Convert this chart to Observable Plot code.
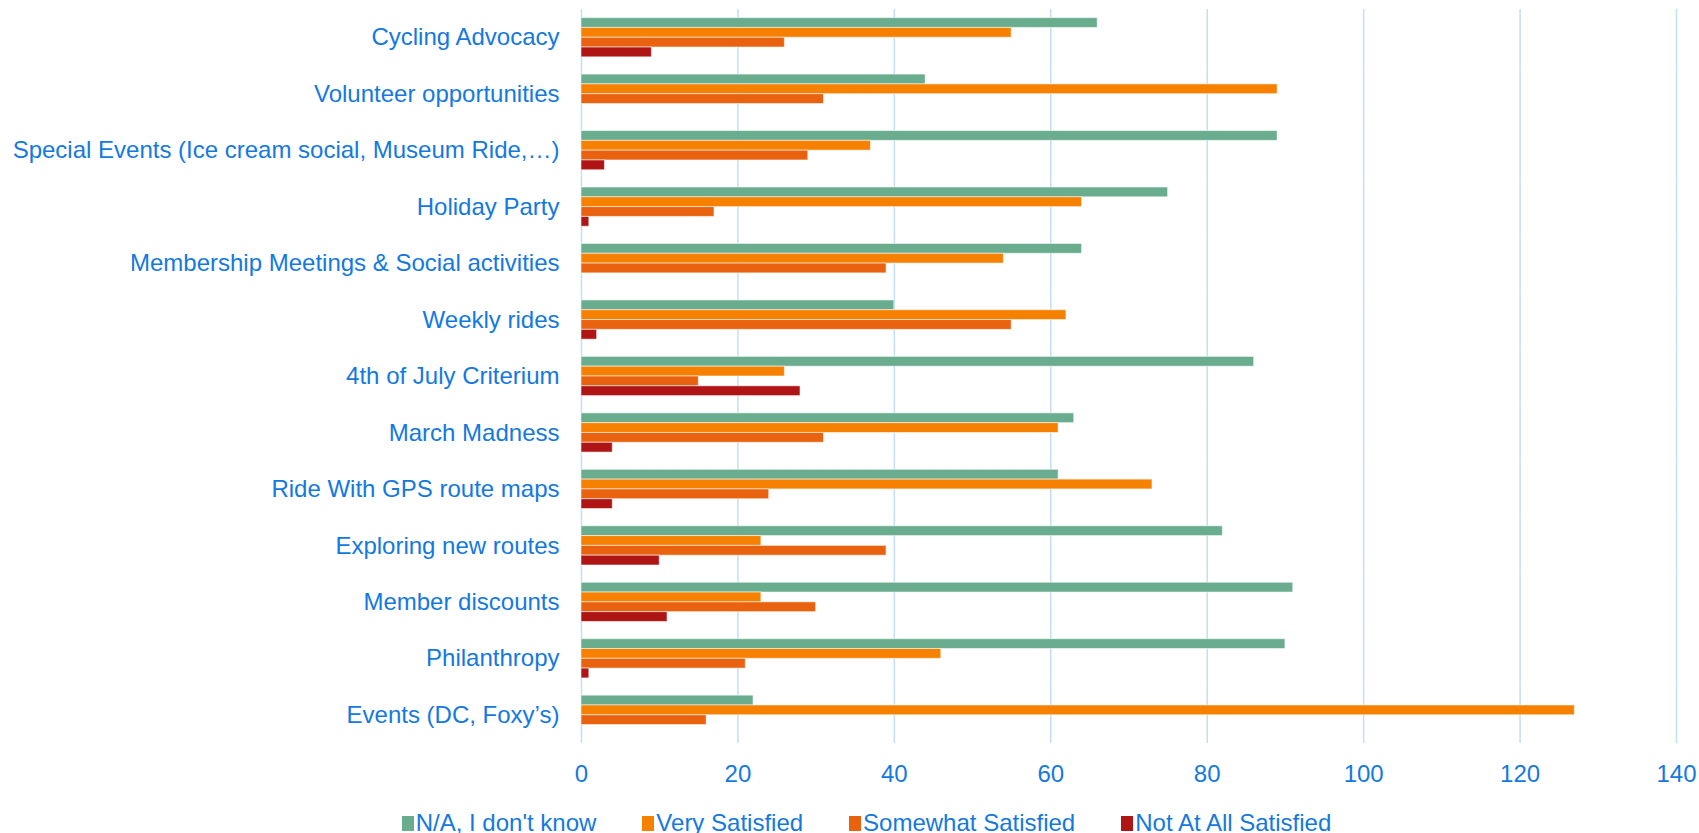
<!DOCTYPE html>
<html>
<head>
<meta charset="utf-8">
<script src="https://cdn.jsdelivr.net/npm/d3@7"></script>
<script src="https://cdn.jsdelivr.net/npm/@observablehq/plot@0.6"></script>
<style>
  html, body { margin: 0; padding: 0; background: #fff; }
  #chart svg { display: block; }
  .legend { display: flex; justify-content: center; gap: 46px; padding-left: 34px; margin-top: 11px;
            font-family: "Liberation Sans", Arial, sans-serif; font-size: 24px; line-height: 24px; color: #1479df; }
  .legend .item { display: flex; align-items: center; gap: 0; }
  .legend .sw { width: 12px; height: 15px; margin-right: 2px; display: inline-block; }
</style>
</head>
<body>
<div id="chart"></div>
<script>
const categories = [
  "Cycling Advocacy",
  "Volunteer opportunities",
  "Special Events (Ice cream social, Museum Ride,…)",
  "Holiday Party",
  "Membership Meetings & Social activities",
  "Weekly rides",
  "4th of July Criterium",
  "March Madness",
  "Ride With GPS route maps",
  "Exploring new routes",
  "Member discounts",
  "Philanthropy",
  "Events (DC, Foxy’s)"
];
const seriesNames = ["N/A, I don't know", "Very Satisfied", "Somewhat Satisfied", "Not At All Satisfied"];
const naValues          = [66, 44, 89, 75, 64, 40, 86, 63, 61, 82, 91, 90, 22];
const verySatisfied     = [55, 89, 37, 64, 54, 62, 26, 61, 73, 23, 23, 46, 127];
const somewhatSatisfied = [26, 31, 29, 17, 39, 55, 15, 31, 24, 39, 30, 21, 16];
const notSatisfied      = [9, null, 3, 1, null, 2, 28, 4, 4, 10, 11, 1, null];
const seriesColors = ["#69ad8e", "#f68000", "#e9620f", "#b01515"];
const xTicks = [0, 20, 40, 60, 80, 100, 120, 140];

const textBlue = "#1479df";
const seriesValues = [naValues, verySatisfied, somewhatSatisfied, notSatisfied];
const rows = categories.flatMap((c, i) =>
  seriesValues.map((arr, j) => ({category: c, series: seriesNames[j], value: arr[i]}))
).filter(d => d.value != null);

const chart = Plot.plot({
  width: 1699,
  height: 800,
  marginLeft: 581,
  marginRight: 23,
  marginTop: 9,
  marginBottom: 57,
  style: {fontFamily: "'Liberation Sans', Arial, sans-serif", fontSize: "24px", color: textBlue, background: "#fff"},
  x: {domain: [0, 140]},
  y: {domain: seriesNames, axis: null, paddingInner: 0, paddingOuter: 0.88, round: false},
  fy: {domain: categories, padding: 0, round: false},
  color: {domain: seriesNames, range: seriesColors},
  marks: [
    Plot.gridX(xTicks, {stroke: "#c3def7", strokeOpacity: 1, strokeWidth: 1.5}),
    Plot.barX(rows, {fy: "category", y: "series", x: "value", fill: "series",
                     stroke: "#ffffff", strokeOpacity: 0.55, strokeWidth: 1}),
    Plot.axisX(xTicks, {tickSize: 0, tickPadding: 21, fill: textBlue, fontSize: 24, label: null}),
    Plot.axisFy({anchor: "left", tickSize: 0, tickPadding: 22, fill: textBlue, fontSize: 24, label: null})
  ]
});
document.getElementById("chart").appendChild(chart);

const legend = document.createElement("div");
legend.className = "legend";
seriesNames.forEach((name, j) => {
  const item = document.createElement("div");
  item.className = "item";
  const sw = document.createElement("span");
  sw.className = "sw";
  sw.style.background = seriesColors[j];
  const label = document.createElement("span");
  label.textContent = name;
  item.appendChild(sw);
  item.appendChild(label);
  legend.appendChild(item);
});
document.getElementById("chart").appendChild(legend);
</script>
</body>
</html>
